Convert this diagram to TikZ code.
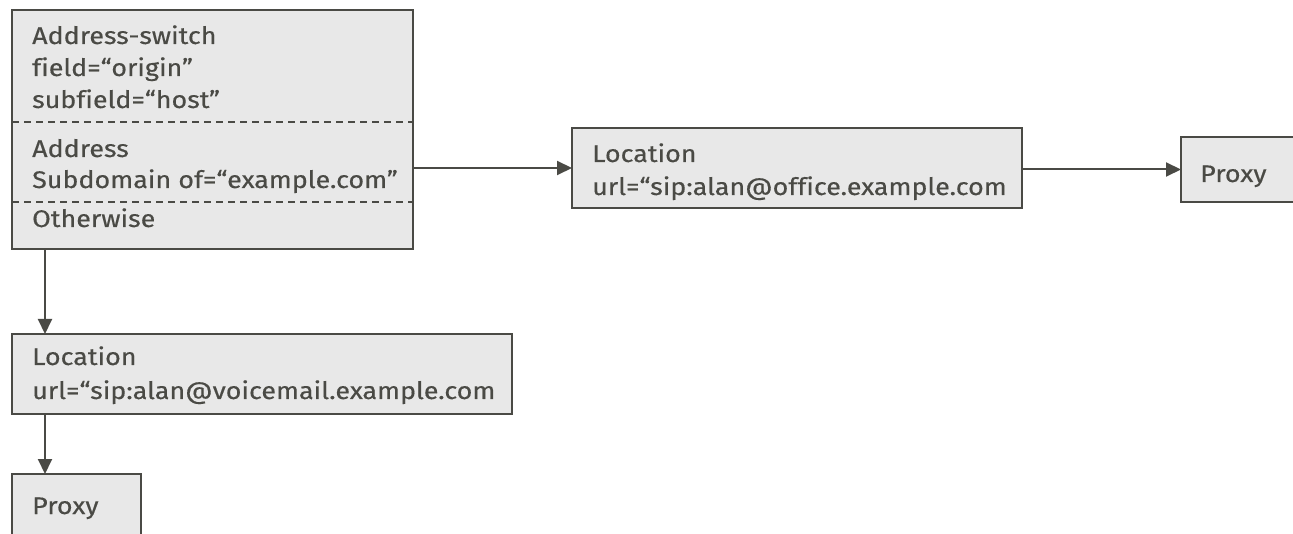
\documentclass[tikz,border=0pt]{standalone}
\usepackage{fontspec}
\setmainfont{Fira Sans}[Ligatures=NoCommon, FakeStretch=1.12, FakeBold=0.4]
\usetikzlibrary{arrows.meta,calc}
\definecolor{boxfill}{HTML}{E8E8E8}
\definecolor{ink}{HTML}{4A4A45}
\begin{document}
\begin{tikzpicture}[x=1pt,y=-1pt,
  block/.style={draw=ink, fill=boxfill, line width=2pt, rectangle,
    anchor=north west, inner sep=0pt, outer sep=0pt},
  label/.style={anchor=base west, inner sep=0pt, text=ink,
    font=\fontsize{24}{28}\selectfont},
  arr/.style={draw=ink, line width=2pt,
    -{Triangle[length=15pt,width=14pt]}},
  divider/.style={draw=ink, line width=1.6pt, dash pattern=on 7pt off 5pt}]
\useasboundingbox (0,0) rectangle (1293,534);

% address-switch block with its three branches
\node[block, minimum width=401pt, minimum height=239pt] (sw) at (12,10) {};
\coordinate (d1l) at (12,122);  \coordinate (d1r) at (413,122);
\coordinate (d2l) at (12,202);  \coordinate (d2r) at (413,202);
\draw[divider] (d1l) -- (d1r);
\draw[divider] (d2l) -- (d2r);
\node[label] (sw1) at (32,44)  {Address-switch};
\node[label] (sw2) at (32,76)  {field=“origin”};
\node[label] (sw3) at (32,108) {subfield=“host”};
\node[label] (ad1) at (32,157) {Address};
\node[label] (ad2) at (32,188) {Subdomain of=“example.com”};
\node[label] (ow1) at (32,227) {Otherwise};

% office location and its proxy
\node[block, minimum width=450pt, minimum height=80pt] (locA) at (572,128) {};
\node[label] (la1) at (592,162) {Location};
\node[label] (la2) at (592,195) {url=“sip:alan@office.example.com};
\node[block, minimum width=140pt, minimum height=65pt] (proxyA) at (1181,137) {};
\node[label] (pa1) at (1200,182) {Proxy};

% voicemail location and its proxy
\node[block, minimum width=500pt, minimum height=80pt] (locB) at (12,334) {};
\node[label] (lb1) at (32,365) {Location};
\node[label] (lb2) at (32,399) {url=“sip:alan@voicemail.example.com};
\node[block, minimum width=129pt, minimum height=80pt] (proxyB) at (12,474) {};
\node[label] (pb1) at (32,514) {Proxy};

% connectors
\draw[arr] (sw.east |- locA.west) -- (locA.west);
\draw[arr] (locA.east |- proxyA.west) -- (proxyA.west);
\draw[arr] ($(sw.south west)+(33,0)$) -- ($(locB.north west)+(33,0)$);
\draw[arr] ($(locB.south west)+(33,0)$) -- ($(proxyB.north west)+(33,0)$);
\end{tikzpicture}
\end{document}
